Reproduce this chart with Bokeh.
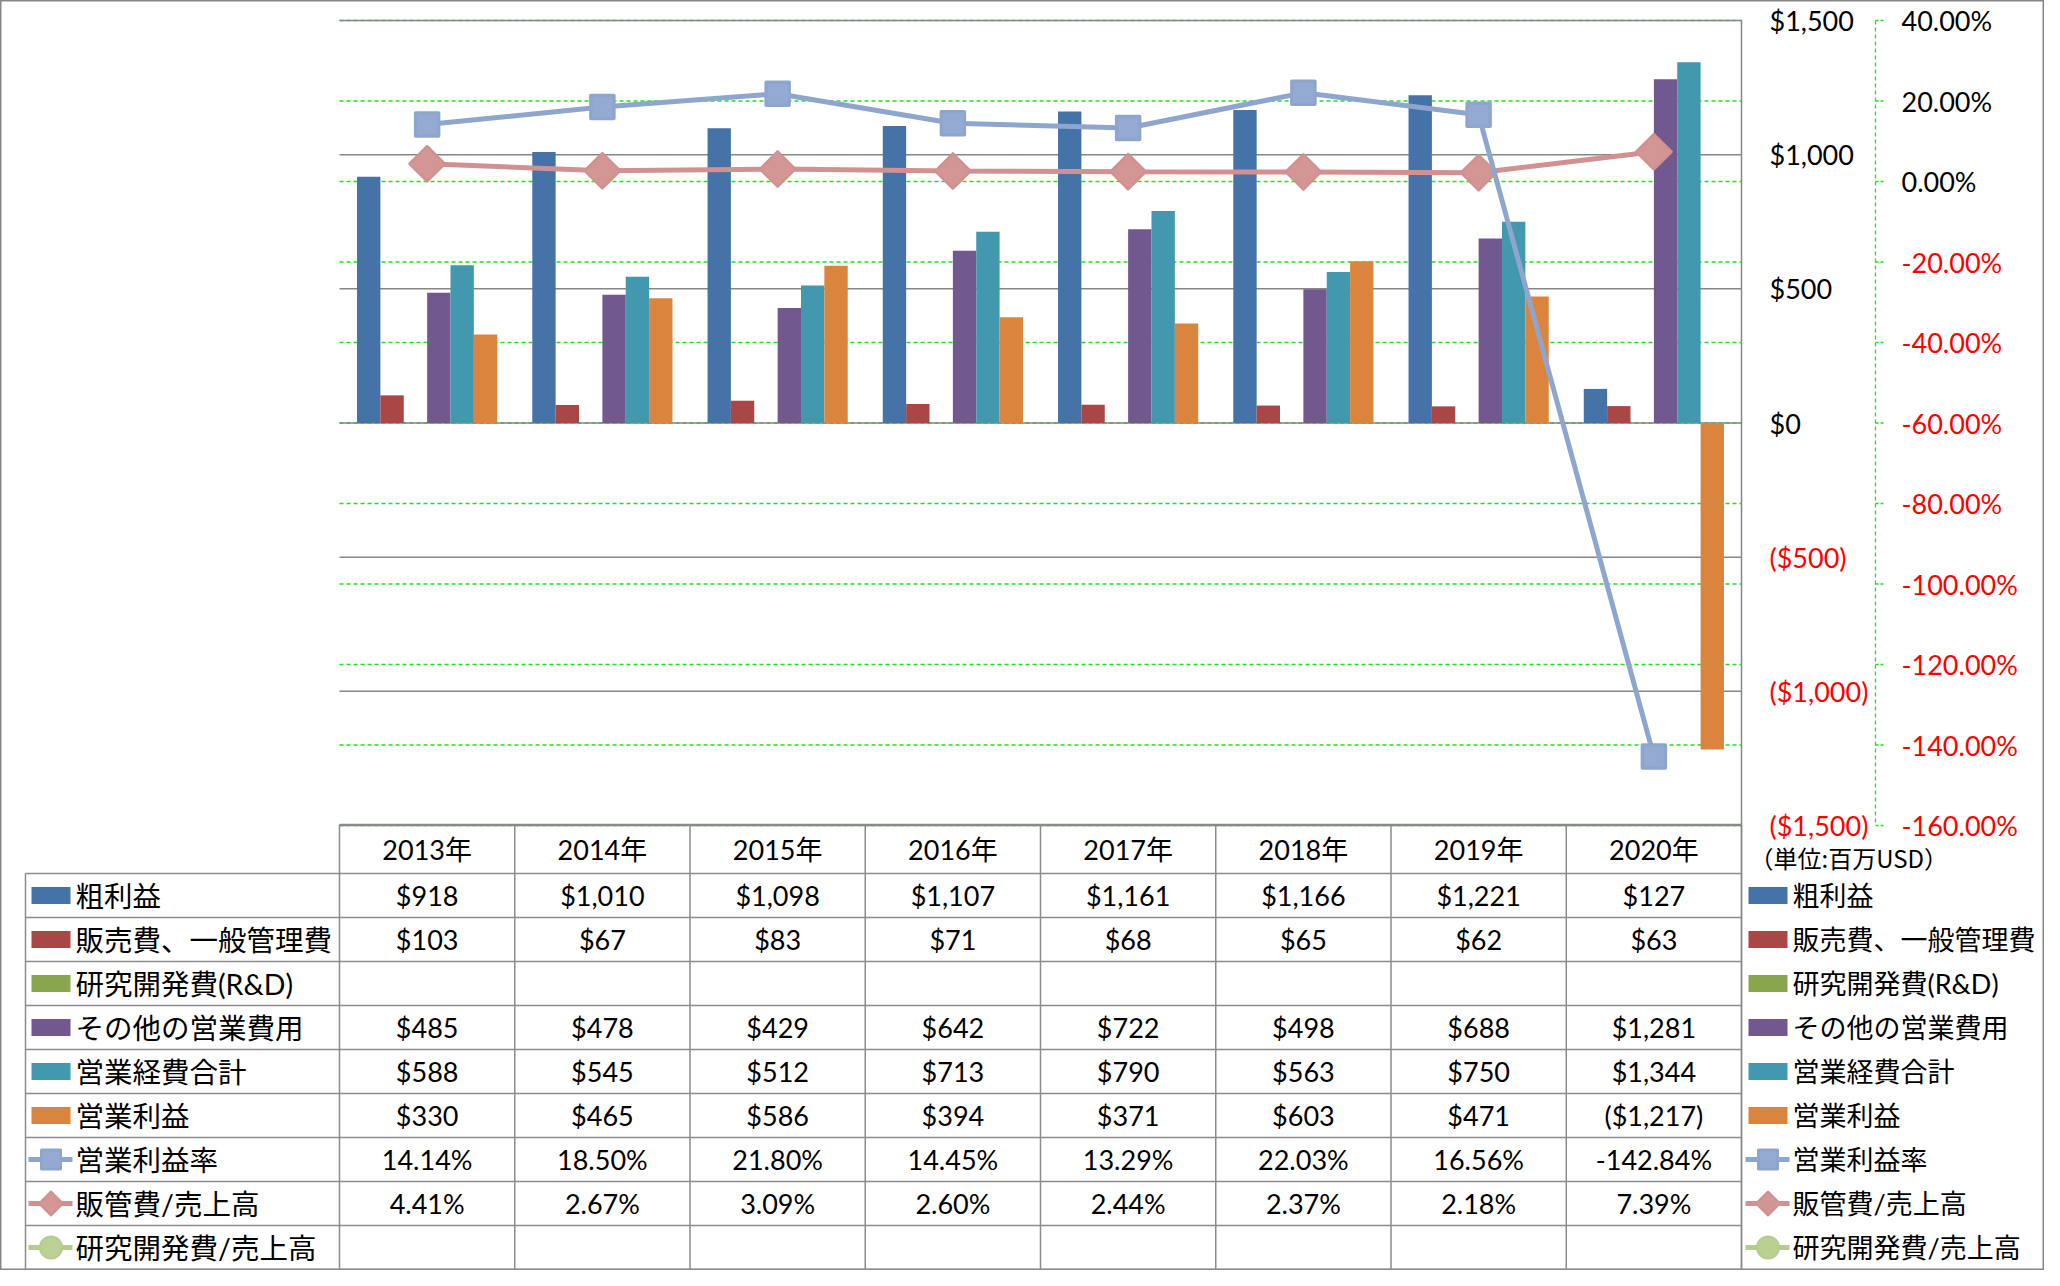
import numpy as np
from bokeh.plotting import figure
from bokeh.models import Range1d
from bokeh.core.properties import value
from bokeh.embed import file_html
from bokeh.resources import INLINE

# ---------------- data ----------------
years = ["2013年", "2014年", "2015年", "2016年", "2017年", "2018年", "2019年", "2020年"]
gross_profit = [918, 1010, 1098, 1107, 1161, 1166, 1221, 127]
sga = [103, 67, 83, 71, 68, 65, 62, 63]
rnd = [None] * 8
other_opex = [485, 478, 429, 642, 722, 498, 688, 1281]
total_opex = [588, 545, 512, 713, 790, 563, 750, 1344]
op_income = [330, 465, 586, 394, 371, 603, 471, -1217]
op_margin = [14.14, 18.50, 21.80, 14.45, 13.29, 22.03, 16.56, -142.84]
sga_ratio = [4.41, 2.67, 3.09, 2.60, 2.44, 2.37, 2.18, 7.39]
rnd_ratio = [None] * 8

bar_names = ["粗利益", "販売費、一般管理費", "研究開発費(R&D)", "その他の営業費用", "営業経費合計", "営業利益"]
line_names = ["営業利益率", "販管費/売上高", "研究開発費/売上高"]
usd_ticks = [1500, 1000, 500, 0, -500, -1000, -1500]
pct_ticks = [40, 20, 0, -20, -40, -60, -80, -100, -120, -140, -160]
unit_note = "（単位:百万USD）"

# ---------------- styles ----------------
bar_colors = ["#4572A7", "#AA4643", "#89A54E", "#71588F", "#4198AF", "#DB843D"]
line_colors = ["#8EA6CE", "#D19191", "#B6CC8E"]
marker_fill = ["#94AAD2", "#D49595", "#BBD093"]
grid_gray = "#868686"
grid_green = "#19E619"
NUM_FONT = value("Lato, 'Noto Sans CJK JP'")
JP_FONT = value("Lato, 'Noto Sans CJK JP'")

# ---------------- layout ----------------
W, H = 2044, 1270
n = len(years)
PL, PR = 339, 1741
PT, PB = 20, 825
span = PR - PL
x_range = Range1d(-PL * n / span, n + (W - PR) * n / span)
dpp = 3000 / (PB - PT)
y_range = Range1d(-1500 - (H - PB) * dpp, 1500 + PT * dpp)
ppp = 200 / (PB - PT)

p = figure(width=W, height=H, x_range=x_range, y_range=y_range,
           output_backend="svg", toolbar_location=None, min_border=0,
           x_axis_location=None, y_axis_location=None)
p.grid.visible = False
p.outline_line_color = grid_gray
p.outline_line_width = 2
p.background_fill_color = "white"
p.border_fill_color = "white"
p.extra_y_ranges = {"pct": Range1d(-160 - (H - PB) * ppp, 40 + PT * ppp),
                    "py": Range1d(H, 0)}
p.extra_x_ranges = {"px": Range1d(0, W)}

# gridlines
p.segment(x0=0, x1=n, y0=pct_ticks, y1=pct_ticks, y_range_name="pct",
          line_color=grid_green, line_dash="4 3", line_width=1.3)
p.segment(x0=0, x1=n, y0=usd_ticks, y1=usd_ticks,
          line_color=grid_gray, line_width=1.5)

# bars
bw = 1 / 7.5
xc = np.arange(n) + 0.5
bar_series = [gross_profit, sga, rnd, other_opex, total_opex, op_income]
for j, vals in enumerate(bar_series):
    v = np.array([np.nan if a is None else a for a in vals], dtype=float)
    if np.all(np.isnan(v)):
        continue
    p.vbar(x=xc + (j - 2.5) * bw, top=v, bottom=0, width=bw,
           fill_color=bar_colors[j], line_color=None)

# lines (sga ratio first, op margin on top)
p.line(xc, sga_ratio, y_range_name="pct", line_color=line_colors[1], line_width=5)
p.scatter(xc, sga_ratio, y_range_name="pct", marker="square", angle=np.pi / 4,
          size=25, fill_color=marker_fill[1], line_color=line_colors[1],
          line_width=2.5, line_join="round")
p.line(xc, op_margin, y_range_name="pct", line_color=line_colors[0], line_width=5)
p.scatter(xc, op_margin, y_range_name="pct", marker="square", size=23,
          fill_color=marker_fill[0], line_color=line_colors[0], line_width=3.5,
          line_join="round")

# plot right border
p.segment(x0=n, x1=n, y0=PT, y1=H, y_range_name="py",
          line_color=grid_gray, line_width=1.5)

# primary axis labels
def usd_fmt(v):
    return f"${v:,}" if v >= 0 else f"(${-v:,})"
p.text(x=[1769] * len(usd_ticks), y=usd_ticks, text=[usd_fmt(v) for v in usd_ticks],
       x_range_name="px", text_align="left", text_baseline="middle",
       text_color=["black" if v >= 0 else "#FF0000" for v in usd_ticks],
       text_font=NUM_FONT, text_font_size="27px")

# secondary axis
AX = 1875
p.segment(x0=AX, x1=AX, y0=40, y1=-160, x_range_name="px", y_range_name="pct",
          line_color=grid_green, line_dash="4 3", line_width=1.3)
p.segment(x0=AX, x1=AX + 9, y0=pct_ticks, y1=pct_ticks, x_range_name="px",
          y_range_name="pct", line_color=grid_green, line_dash="3 2", line_width=1.3)
p.text(x=[1901] * len(pct_ticks), y=pct_ticks, text=[f"{v:.2f}%" for v in pct_ticks],
       x_range_name="px", y_range_name="pct", text_align="left", text_baseline="middle",
       text_color=["black" if v >= 0 else "#FF0000" for v in pct_ticks],
       text_font=NUM_FONT, text_font_size="27px")

# ---------------- data table ----------------
HT, RT, RB = 824, 873, 1269
nrows = 9
rh = (RB - RT) / nrows
row_c = [RT + (r + 0.5) * rh for r in range(nrows)]
tcol = "#8C8C8C"

# horizontal lines
p.segment(x0=0, x1=n, y0=HT, y1=HT, y_range_name="py", line_color=tcol, line_width=1.5)
row_lines = [RT + k * rh for k in range(nrows + 1)]
p.segment(x0=25, x1=PR, y0=row_lines, y1=row_lines, x_range_name="px",
          y_range_name="py", line_color=tcol, line_width=1.5)
# vertical lines
bounds = list(range(n + 1))
p.segment(x0=bounds, x1=bounds, y0=HT, y1=RB, y_range_name="py",
          line_color=tcol, line_width=1.5)
p.segment(x0=25, x1=25, y0=RT, y1=RB, x_range_name="px",
          y_range_name="py", line_color=tcol, line_width=1.5)

# header
p.text(x=xc, y=[(HT + RT) / 2] * n, text=years, y_range_name="py",
       text_align="center", text_baseline="middle", text_color="black",
       text_font=NUM_FONT, text_font_size="27px")

def pct_fmt(v):
    return "" if v is None else f"{v:.2f}%"
def usd_cell(v):
    return "" if v is None else usd_fmt(v)

rows_text = [[usd_cell(v) for v in s] for s in bar_series] + \
            [[pct_fmt(v) for v in s] for s in (op_margin, sga_ratio, rnd_ratio)]
for r, texts in enumerate(rows_text):
    p.text(x=xc, y=[row_c[r]] * n, text=texts, y_range_name="py",
           text_align="center", text_baseline="middle", text_color="black",
           text_font=NUM_FONT, text_font_size="27px")

# legends (left in table, right outside)
all_names = bar_names + line_names
for (sw_l, sw_r, tx, fs) in [(31, 70, 75, "28.5px"), (1748, 1787, 1792, "27px")]:
    p.rect(x=[(sw_l + sw_r) / 2] * 6, y=row_c[:6], width=sw_r - sw_l, height=17,
           x_range_name="px", y_range_name="py", fill_color=bar_colors, line_color=None)
    for k in range(3):
        yk = row_c[6 + k]
        cxm = (sw_l + sw_r) / 2
        p.segment(x0=sw_l - 3, x1=sw_r + 2, y0=yk, y1=yk, x_range_name="px",
                  y_range_name="py", line_color=line_colors[k], line_width=5)
        if k == 1:
            p.scatter(x=[cxm], y=[yk], marker="square", angle=np.pi / 4, size=17,
                      x_range_name="px", y_range_name="py", fill_color=marker_fill[k],
                      line_color=line_colors[k], line_width=2, line_join="round")
        elif k == 0:
            p.scatter(x=[cxm], y=[yk], marker="square", size=19,
                      x_range_name="px", y_range_name="py", fill_color=marker_fill[k],
                      line_color=line_colors[k], line_width=3, line_join="round")
        else:
            p.scatter(x=[cxm], y=[yk], marker="circle", size=22,
                      x_range_name="px", y_range_name="py", fill_color=marker_fill[k],
                      line_color=line_colors[k], line_width=2)
    p.text(x=[tx] * 9, y=row_c, text=all_names, x_range_name="px", y_range_name="py",
           text_align="left", text_baseline="middle", text_color="black",
           text_font=JP_FONT, text_font_size=fs)

# unit note
p.text(x=[1749], y=[857], text=[unit_note], x_range_name="px", y_range_name="py",
       text_align="left", text_baseline="middle", text_color="black",
       text_font=value("Noto Sans CJK JP"), text_font_size="24px")

open("out.html", "w").write(file_html(p, INLINE))
